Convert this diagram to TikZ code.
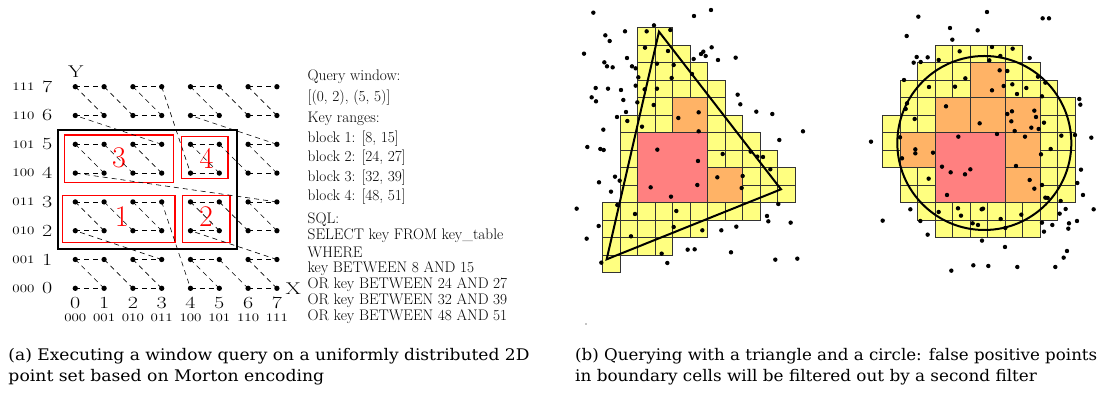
\documentclass[tikz,border=0pt]{standalone}
\usepackage{graphicx}
\usepackage{fontspec}
\newfontfamily\capfont{DejaVu Serif}
\definecolor{cellyellow}{HTML}{FFFF80}
\definecolor{cellorange}{HTML}{FFB366}
\definecolor{cellred}{HTML}{FF8080}
\definecolor{cellline}{HTML}{333333}
\newcommand\axbig[1]{\scalebox{1.3}[1]{\fontsize{17}{20}\selectfont #1}}
\newcommand\axsmall[1]{\scalebox{1.3}[1]{\fontsize{11.5}{14}\selectfont #1}}
\newcommand\capline[2]{\resizebox{#1}{\height}{#2}}
\tikzset{
  gdot/.style={circle,fill=black,inner sep=0pt,minimum size=5.3pt},
  morton/.style={dash pattern=on 5pt off 4pt,line width=0.6pt},
  qbox/.style={draw=red,line width=1.2pt},
  blocknum/.style={text=red,font=\fontsize{30}{32}\selectfont},
  infotext/.style={anchor=west,inner sep=0pt,font=\fontsize{15.3}{16}\selectfont},
  ycell/.style={fill=cellyellow,draw=cellline,line width=0.8pt},
  ocell/.style={fill=cellorange,draw=cellline,line width=0.8pt},
  rcell/.style={fill=cellred,draw=cellline,line width=0.8pt},
  captext/.style={anchor=base west,inner sep=0pt,font=\capfont\fontsize{16}{19}\selectfont},
}
\begin{document}
\begin{tikzpicture}[x=1pt,y=-1pt]
\useasboundingbox (0,0) rectangle (1100,392);

% ---------------- Morton grid ----------------
\begin{scope}[shift={(75.3,288.3)},x=28.8pt,y=28.8pt]
  \draw[line width=1.8pt] (-0.60,1.354) rectangle (5.625,5.5);
  \draw[qbox] (-0.38,3.66) rectangle (3.40,5.32);
  \draw[qbox] (3.69,3.82) rectangle (5.30,5.26);
  \draw[qbox] (-0.44,1.58) rectangle (3.46,3.22);
  \draw[qbox] (3.72,1.58) rectangle (5.37,3.22);
  \node[blocknum] (b3) at (1.52,4.52) {3};
  \node[blocknum] (b4) at (4.56,4.52) {4};
  \node[blocknum] (b1) at (1.61,2.49) {1};
  \node[blocknum] (b2) at (4.54,2.48) {2};
  \foreach \k/\px/\py in {
    0/0/0,1/1/0,2/0/1,3/1/1,4/2/0,5/3/0,6/2/1,7/3/1,
    8/0/2,9/1/2,10/0/3,11/1/3,12/2/2,13/3/2,14/2/3,15/3/3,
    16/4/0,17/5/0,18/4/1,19/5/1,20/6/0,21/7/0,22/6/1,23/7/1,
    24/4/2,25/5/2,26/4/3,27/5/3,28/6/2,29/7/2,30/6/3,31/7/3,
    32/0/4,33/1/4,34/0/5,35/1/5,36/2/4,37/3/4,38/2/5,39/3/5,
    40/0/6,41/1/6,42/0/7,43/1/7,44/2/6,45/3/6,46/2/7,47/3/7,
    48/4/4,49/5/4,50/4/5,51/5/5,52/6/4,53/7/4,54/6/5,55/7/5,
    56/4/6,57/5/6,58/4/7,59/5/7,60/6/6,61/7/6,62/6/7,63/7/7}
    \node[gdot] (m\k) at (\px,\py) {};
  \foreach \k [evaluate=\k as \n using int(\k+1)] in {0,...,62}
    \draw[morton] (m\k.center) -- (m\n.center);
  \foreach \v/\b in {0/000,1/001,2/010,3/011,4/100,5/101,6/110,7/111} {
    \node (ry\v) at (-0.98,\v) {\axbig{\v}};
    \node (rb\v) at (-1.8,\v) {\axsmall{\b}};
    \node (cx\v) at (\v,-0.51) {\axbig{\v}};
    \node (cb\v) at (\v,-1.03) {\axsmall{\b}};
  }
  \node (ylab) at (0.02,7.52) {\axbig{Y}};
  \node (xlab) at (7.57,0) {\axbig{X}};
\end{scope}

% ---------------- query description ----------------
\node[infotext] (t1) at (307.5,77) {Query window:};
\node[infotext] (t2) at (307.5,98) {[(0, 2), (5, 5)]};
\node[infotext] (t3) at (307.5,119) {Key ranges:};
\node[infotext] (t4) at (307.5,138.5) {block 1: [8, 15]};
\node[infotext] (t5) at (307.5,158) {block 2: [24, 27]};
\node[infotext] (t6) at (307.5,177.5) {block 3: [32, 39]};
\node[infotext] (t7) at (307.5,197) {block 4: [48, 51]};
\node[infotext] (t8) at (307.5,220) {SQL:};
\node[infotext] (t9) at (307.5,236) {SELECT key FROM key\_table};
\node[infotext] (t10) at (307.5,252.5) {WHERE};
\node[infotext] (t11) at (307.5,268.8) {key BETWEEN 8 AND 15};
\node[infotext] (t12) at (307.5,285) {OR key BETWEEN 24 AND 27};
\node[infotext] (t13) at (307.5,301) {OR key BETWEEN 32 AND 39};
\node[infotext] (t14) at (307.5,317) {OR key BETWEEN 48 AND 51};

% ---------------- triangle query ----------------
\begin{scope}[shift={(560,0)},x=0.3333pt,y=-0.3333pt]
  \foreach \r/\a/\b in {0/2/3,1/2/4,2/2/5,3/2/6,4/2/6,5/1/7,6/1/8,7/1/9,
                        8/1/10,9/1/10,10/0/8,11/0/5,12/0/3,13/0/0}
    \foreach \c in {\a,...,\b}
      \draw[ycell] ({128+52.5*\c},{83+52.5*\r}) rectangle ++(52.5,52.5);
  \draw[ocell] ({128+52.5*4},{83+52.5*4}) rectangle ++(105,105);
  \draw[ocell] ({128+52.5*6},{83+52.5*8}) rectangle ++(105,105);
  \draw[rcell] ({128+52.5*2},{83+52.5*6}) rectangle ++(210,210);
  \draw[line width=2pt,line join=miter] (297,95) -- (663,568) -- (140,778) -- cycle;
  \foreach \p in {(100,38),(402,48),(453,30),(282,76),(260,94),(331,90),(195,94),
    (136,106),(149,123),(72,161),(255,143),(324,153),(455,142),(430,155),(423,162),
    (437,168),(401,177),(474,180),(527,173),(133,187),(141,199),(158,202),(201,174),
    (216,199),(227,205),(291,191),(341,195),(235,232),(335,234),(396,222),(107,264),
    (144,266),(183,270),(227,257),(254,268),(291,266),(95,292),(108,304),(190,300),
    (232,307),(281,315),(533,284),(541,313),(589,335),(637,342),(198,336),(171,351),
    (202,363),(355,354),(416,337),(246,380),(130,389),(416,394),(729,394),(658,420),
    (82,441),(121,447),(131,450),(292,449),(572,455),(488,462),(592,470),(609,471),
    (414,483),(631,508),(165,530),(179,542),(117,547),(472,532),(548,528),(412,555),
    (272,562),(545,564),(153,575),(333,590),(50,626),(172,615),(655,612),(349,633),
    (225,642),(621,648),(625,664),(692,668),(116,678),(341,681),(529,680),(427,691),
    (484,691),(80,716),(213,709),(383,749),(404,748),(513,757),(305,761),(124,788),
    (322,789),(646,779),(712,776)}
    \fill \p circle (2.2pt);
  \fill (78,972) circle (0.6pt);
\end{scope}

% ---------------- circle query ----------------
\begin{scope}[shift={(850,0)},x=0.3333pt,y=-0.3333pt]
  \foreach \r/\a/\b in {0/3/7,1/2/8,2/1/9,3/1/10,4/0/10,5/0/10,6/0/10,
                        7/1/10,8/1/10,9/2/9,10/3/8}
    \foreach \c in {\a,...,\b}
      \draw[ycell] ({98+52.5*\c},{136+52.5*\r}) rectangle ++(52.5,52.5);
  \foreach \c/\r in {5/1,3/3,5/3,7/3,1/5,7/5,7/7}
    \draw[ocell] ({98+52.5*\c},{136+52.5*\r}) rectangle ++(105,105);
  \draw[rcell] ({98+52.5*3},{136+52.5*5}) rectangle ++(210,210);
  \draw[line width=2pt] (403,429) circle[radius=87pt];
  \foreach \p in {(205,50),(411,36),(578,55),(597,55),(300,84),(383,91),(170,108),
    (307,119),(329,154),(426,141),(488,146),(200,171),(233,172),(191,188),(212,186),
    (266,180),(418,181),(451,168),(539,174),(449,211),(472,213),(564,230),(586,248),
    (162,240),(237,261),(346,235),(315,260),(426,271),(461,258),(487,253),(501,282),
    (529,264),(576,289),(688,297),(691,314),(171,310),(167,327),(288,319),(472,342),
    (486,334),(553,332),(558,351),(566,387),(484,364),(494,393),(544,383),(582,368),
    (194,357),(389,370),(441,402),(325,410),(525,410),(634,407),(675,405),(724,413),
    (63,425),(150,412),(196,448),(196,460),(249,458),(156,475),(573,463),(602,447),
    (498,498),(276,500),(302,517),(345,523),(361,508),(236,536),(539,540),(553,566),
    (576,555),(693,509),(682,549),(291,585),(699,585),(586,593),(593,594),(632,603),
    (181,628),(324,625),(399,626),(395,628),(266,636),(333,647),(514,644),(629,641),
    (647,627),(731,628),(98,662),(211,663),(452,657),(368,670),(384,675),(466,684),
    (576,668),(607,675),(657,670),(681,663),(655,686),(582,695),(233,704),(396,722),
    (465,741),(651,753),(641,773),(370,796),(415,798),(502,801),(616,801),(304,812)}
    \fill \p circle (2.2pt);
\end{scope}

% ---------------- captions ----------------
\node[captext] (capa1) at (8.3,360) {\capline{521pt}{(a) Executing a window query on a uniformly distributed 2D}};
\node[captext] (capa2) at (8.3,381.5) {\capline{315.7pt}{point set based on Morton encoding}};
\node[captext] (capb1) at (575,360) {\capline{522pt}{(b) Querying with a triangle and a circle: false positive points}};
\node[captext] (capb2) at (575,381.5) {\capline{461.7pt}{in boundary cells will be filtered out by a second filter}};
\end{tikzpicture}
\end{document}
